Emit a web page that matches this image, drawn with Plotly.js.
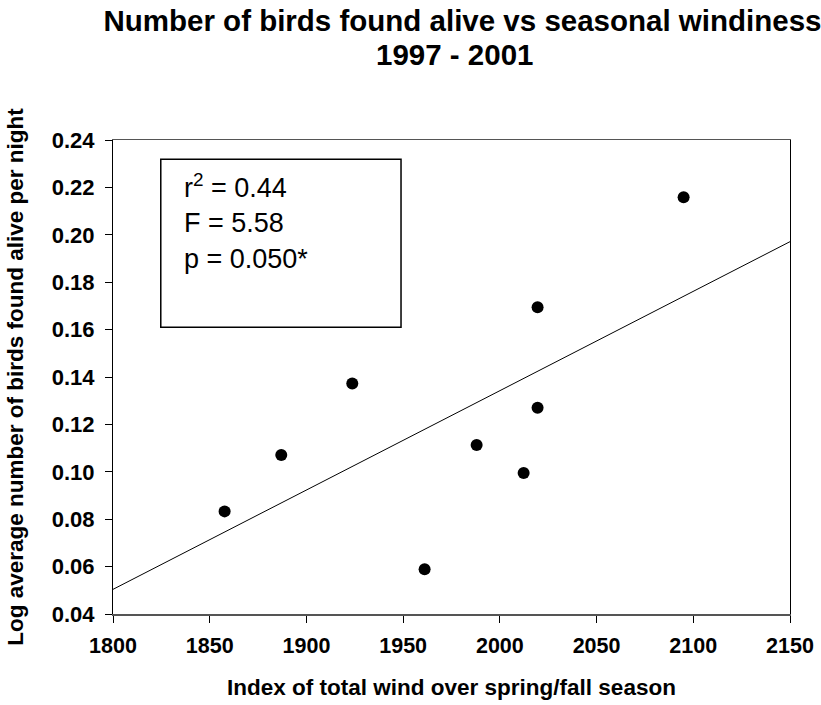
<!DOCTYPE html>
<html>
<head>
<meta charset="utf-8">
<script src="https://cdn.plot.ly/plotly-3.0.1.min.js"></script>
<style>
  html, body { margin: 0; padding: 0; background: #fff; }
  #chart { width: 821px; height: 705px; }
</style>
</head>
<body>
<div id="chart"></div>
<script>
// Data
var windIndex = [1857.7, 1887.0, 1923.7, 1961.1, 1988.0, 2012.3, 2019.5, 2019.5, 2095.0];
var logBirds  = [0.0833, 0.1071, 0.1373, 0.0589, 0.1113, 0.0995, 0.1694, 0.1270, 0.2158];
var fitX = [1800, 2150];
var fitY = [0.0504, 0.1971];
var xTicks = [1800, 1850, 1900, 1950, 2000, 2050, 2100, 2150];
var yTicks = [0.04, 0.06, 0.08, 0.10, 0.12, 0.14, 0.16, 0.18, 0.20, 0.22, 0.24];
var statsLines = ['r<sup>2</sup> = 0.44', 'F = 5.58', 'p = 0.050*'];
var titleLine1 = 'Number of birds found alive vs seasonal windiness';
var titleLine2 = '1997 - 2001';

var FONT = 'Liberation Sans, Arial, sans-serif';

var traces = [
  {
    x: fitX, y: fitY, type: 'scatter', mode: 'lines',
    line: { color: '#000', width: 1 }, hoverinfo: 'skip', showlegend: false
  },
  {
    x: windIndex, y: logBirds, type: 'scatter', mode: 'markers',
    marker: { color: '#000', size: 12 }, showlegend: false
  }
];

var layout = {
  width: 821, height: 705,
  paper_bgcolor: '#fff', plot_bgcolor: '#fff',
  margin: { l: 113, r: 31, t: 140, b: 91 },
  font: { family: FONT, color: '#000' },
  showlegend: false,
  title: {
    text: '<b>' + titleLine1 + '</b>',
    font: { family: FONT, size: 29.5, color: '#000' },
    x: 0.5162, xref: 'paper', xanchor: 'center',
    y: 1 - 20.5 / 705, yref: 'container', yanchor: 'middle'
  },
  xaxis: {
    range: [1800, 2150], tickvals: xTicks, ticktext: xTicks.map(String),
    showgrid: false, zeroline: false,
    showline: true, linecolor: '#555', linewidth: 1.5, mirror: true,
    ticks: 'outside', ticklen: 7, tickwidth: 1, tickcolor: '#000',
    ticklabelstandoff: 5,
    tickfont: { family: FONT, size: 21.5, color: '#000', weight: 'bold' },
    title: { text: '<b>Index of total wind over spring/fall season</b>', standoff: 22,
             font: { family: FONT, size: 22.5, color: '#000' } }
  },
  yaxis: {
    range: [0.04, 0.24], tickvals: yTicks, ticktext: yTicks.map(function (v) { return v.toFixed(2); }),
    showgrid: false, zeroline: false,
    showline: true, linecolor: '#000', linewidth: 1, mirror: true,
    ticks: 'outside', ticklen: 7, tickwidth: 1, tickcolor: '#000',
    ticklabelstandoff: 6,
    tickfont: { family: FONT, size: 22, color: '#000', weight: 'bold' },
    title: { text: '<b>Log average number of birds found alive per night</b>', standoff: 21,
             font: { family: FONT, size: 22.5, color: '#000' } }
  },
  shapes: [
    { type: 'rect', xref: 'x', yref: 'y', x0: 1824.7, x1: 1948.9, y0: 0.1610, y1: 0.2319,
      line: { color: '#000', width: 1.5 }, fillcolor: 'rgba(0,0,0,0)' }
  ],
  annotations: [
    { xref: 'paper', yref: 'paper', x: (454 - 113) / 677, y: (614 - 54.6) / 474,
      xanchor: 'center', yanchor: 'middle', showarrow: false,
      text: '<b>' + titleLine2 + '</b>',
      font: { family: FONT, size: 29.5, color: '#000' } },
    { xref: 'x', yref: 'y', x: 1835.5, y: 0.2055, xanchor: 'left', yanchor: 'middle',
      align: 'left', showarrow: false, text: statsLines.join('<br>'),
      font: { family: FONT, size: 27, color: '#000' } }
  ]
};

Plotly.newPlot('chart', traces, layout, { staticPlot: true, displayModeBar: false });
</script>
</body>
</html>
